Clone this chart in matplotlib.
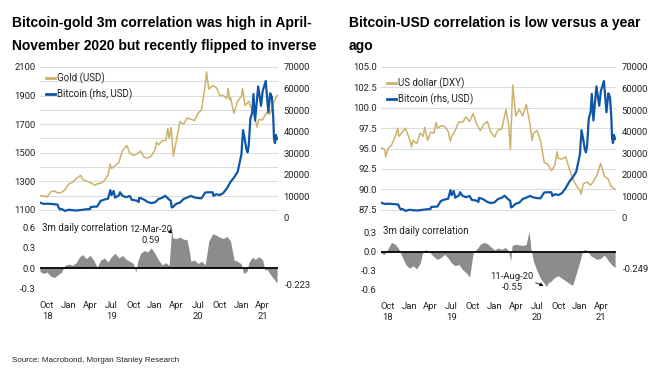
import pandas as pd
import numpy as np
import matplotlib
matplotlib.use('Agg')
import matplotlib.pyplot as plt
import matplotlib.transforms as mtransforms
from matplotlib import font_manager as fm

# ---- data ----
gold_dates = ["2018-09-01", "2018-09-16", "2018-10-01", "2018-10-16", "2018-11-01", "2018-11-16",
              "2018-12-01", "2018-12-16", "2019-01-01", "2019-01-16", "2019-02-01", "2019-02-20",
              "2019-03-01", "2019-03-16", "2019-04-01", "2019-04-23", "2019-05-01", "2019-05-16",
              "2019-06-01", "2019-06-16", "2019-06-25", "2019-07-01", "2019-07-16", "2019-08-01",
              "2019-08-16", "2019-09-04", "2019-09-16", "2019-10-01", "2019-10-16", "2019-11-01",
              "2019-11-16", "2019-12-01", "2019-12-16", "2020-01-01", "2020-01-08", "2020-01-16",
              "2020-02-01", "2020-02-16", "2020-02-24", "2020-03-01", "2020-03-09", "2020-03-19",
              "2020-04-01", "2020-04-16", "2020-05-01", "2020-05-16", "2020-06-01", "2020-06-16",
              "2020-07-01", "2020-07-16", "2020-08-01", "2020-08-06", "2020-08-16", "2020-09-01",
              "2020-09-16", "2020-10-01", "2020-10-16", "2020-11-01", "2020-11-06", "2020-11-12",
              "2020-11-16", "2020-11-30", "2020-12-16", "2021-01-01", "2021-01-06", "2021-01-16",
              "2021-02-01", "2021-02-16", "2021-03-01", "2021-03-08", "2021-03-16", "2021-04-01",
              "2021-04-16", "2021-05-01", "2021-05-16", "2021-06-01"]
gold_usd = [1200, 1198, 1190, 1226, 1233, 1218,
            1222, 1242, 1282, 1292, 1318, 1342,
            1313, 1302, 1292, 1272, 1282, 1287,
            1305, 1342, 1420, 1390, 1410, 1432,
            1515, 1550, 1500, 1480, 1492, 1512,
            1468, 1462, 1476, 1520, 1575, 1555,
            1585, 1585, 1670, 1600, 1678, 1475,
            1590, 1718, 1700, 1742, 1735, 1725,
            1775, 1802, 1975, 2065, 1945, 1970,
            1958, 1902, 1900, 1880, 1950, 1870,
            1886, 1776, 1860, 1895, 1950, 1830,
            1860, 1795, 1730, 1680, 1732, 1730,
            1778, 1770, 1845, 1902]

dxy_dates = ["2018-09-01", "2018-09-16", "2018-09-21", "2018-10-01", "2018-10-16", "2018-11-01",
             "2018-11-12", "2018-11-16", "2018-12-01", "2018-12-14", "2019-01-01", "2019-01-10",
             "2019-01-16", "2019-02-01", "2019-02-16", "2019-03-01", "2019-03-07", "2019-03-20",
             "2019-04-01", "2019-04-16", "2019-04-25", "2019-05-01", "2019-05-16", "2019-06-01",
             "2019-06-16", "2019-06-25", "2019-07-01", "2019-07-16", "2019-08-01", "2019-08-16",
             "2019-09-01", "2019-09-16", "2019-10-01", "2019-10-16", "2019-11-01", "2019-11-16",
             "2019-12-01", "2019-12-16", "2020-01-01", "2020-01-16", "2020-02-01", "2020-02-19",
             "2020-03-01", "2020-03-09", "2020-03-19", "2020-04-01", "2020-04-16", "2020-05-01",
             "2020-05-16", "2020-06-01", "2020-06-10", "2020-06-16", "2020-07-01", "2020-07-16",
             "2020-08-01", "2020-08-16", "2020-09-01", "2020-09-16", "2020-09-25", "2020-10-01",
             "2020-10-16", "2020-11-01", "2020-11-16", "2020-12-01", "2020-12-16", "2021-01-01",
             "2021-01-06", "2021-01-16", "2021-02-01", "2021-02-16", "2021-03-01", "2021-03-16",
             "2021-03-31", "2021-04-16", "2021-05-01", "2021-05-16", "2021-06-01"]
dxy = [95.1, 94.9, 94.0, 95.0, 95.4, 96.5,
       97.5, 96.5, 97.0, 97.5, 96.2, 95.2,
       96.0, 95.6, 96.9, 96.5, 97.6, 96.0,
       97.0, 96.9, 98.2, 97.5, 97.8, 97.7,
       97.1, 95.9, 96.5, 97.2, 98.3, 98.2,
       98.9, 98.3, 99.3, 98.0, 97.2, 98.0,
       98.3, 97.0, 96.4, 97.3, 97.4, 99.8,
       98.0, 94.9, 102.8, 99.0, 99.8, 99.0,
       100.4, 98.0, 96.0, 96.9, 97.2, 96.0,
       93.3, 93.1, 92.3, 93.0, 94.6, 93.8,
       93.7, 94.0, 92.6, 91.3, 90.5, 89.9,
       89.4, 90.7, 90.9, 90.5, 91.0, 91.8,
       93.2, 91.6, 91.3, 90.3, 90.0]

btc_dates = ["2018-09-01", "2018-09-16", "2018-10-01", "2018-10-16", "2018-11-01", "2018-11-14",
             "2018-11-20", "2018-11-25", "2018-12-01", "2018-12-16", "2019-01-01", "2019-01-16",
             "2019-02-01", "2019-02-16", "2019-03-01", "2019-03-16", "2019-04-01", "2019-04-03",
             "2019-04-16", "2019-05-01", "2019-05-16", "2019-06-01", "2019-06-16", "2019-06-26",
             "2019-07-01", "2019-07-10", "2019-07-16", "2019-08-01", "2019-08-06", "2019-08-16",
             "2019-09-01", "2019-09-16", "2019-09-25", "2019-10-01", "2019-10-16", "2019-10-24",
             "2019-10-26", "2019-11-01", "2019-11-16", "2019-12-01", "2019-12-16", "2020-01-01",
             "2020-01-16", "2020-02-01", "2020-02-13", "2020-03-01", "2020-03-08", "2020-03-12",
             "2020-03-16", "2020-04-01", "2020-04-16", "2020-05-01", "2020-05-16", "2020-06-01",
             "2020-06-16", "2020-07-01", "2020-07-16", "2020-08-01", "2020-08-16", "2020-09-01",
             "2020-09-05", "2020-09-16", "2020-10-01", "2020-10-16", "2020-11-01", "2020-11-16",
             "2020-12-01", "2020-12-16", "2021-01-01", "2021-01-08", "2021-01-16", "2021-01-22",
             "2021-01-27", "2021-02-01", "2021-02-08", "2021-02-16", "2021-02-21", "2021-02-28",
             "2021-03-13", "2021-03-25", "2021-04-01", "2021-04-14", "2021-04-25", "2021-05-03",
             "2021-05-10", "2021-05-16", "2021-05-19", "2021-05-23", "2021-05-27", "2021-06-01"]
btc_usd = [7100, 6500, 6600, 6500, 6350, 6200,
           4600, 3900, 4200, 3250, 3800, 3600,
           3450, 3600, 3800, 4000, 4100, 5000,
           5200, 5300, 7900, 8550, 8900, 12900,
           10600, 12500, 9400, 10400, 11900, 10300,
           9600, 10200, 8400, 8300, 8000, 7400,
           9250, 9200, 8500, 7400, 6900, 7200,
           8800, 9350, 10300, 8500, 8000, 4850,
           5000, 6600, 7100, 8800, 9400, 10200,
           9500, 9200, 9100, 11800, 11900, 11900,
           10200, 11000, 10600, 11500, 13800, 16700,
           18800, 21300, 29400, 40700, 36000, 32000,
           30400, 33500, 46000, 49000, 57500, 45200,
           61000, 52000, 58800, 63500, 49000, 57800,
           56000, 46400, 37000, 34700, 38500, 36600]

corr_gold_dates = ["2018-09-01", "2018-09-16", "2018-10-01", "2018-10-16", "2018-11-01", "2018-11-16",
                   "2018-12-01", "2018-12-16", "2019-01-01", "2019-01-16", "2019-02-01", "2019-02-16",
                   "2019-03-01", "2019-03-16", "2019-04-01", "2019-04-16", "2019-05-01", "2019-05-16",
                   "2019-06-01", "2019-06-16", "2019-07-01", "2019-07-16", "2019-08-01", "2019-08-16",
                   "2019-09-01", "2019-09-16", "2019-10-01", "2019-10-12", "2019-10-20", "2019-11-01",
                   "2019-11-16", "2019-12-01", "2019-12-16", "2020-01-01", "2020-01-16", "2020-02-01",
                   "2020-02-16", "2020-03-01", "2020-03-12", "2020-03-16", "2020-04-01", "2020-04-16",
                   "2020-05-01", "2020-05-16", "2020-05-28", "2020-06-01", "2020-06-16", "2020-07-01",
                   "2020-07-16", "2020-08-01", "2020-08-16", "2020-09-01", "2020-09-16", "2020-10-01",
                   "2020-10-16", "2020-11-01", "2020-11-16", "2020-12-01", "2020-12-16", "2021-01-01",
                   "2021-01-10", "2021-01-25", "2021-02-01", "2021-02-16", "2021-03-01", "2021-03-16",
                   "2021-04-01", "2021-04-10", "2021-04-20", "2021-05-01", "2021-05-16", "2021-06-01"]
corr_gold = [-0.05, -0.08, -0.06, -0.12, -0.14, -0.10,
             -0.06, 0.04, 0.06, 0.04, 0.08, 0.17,
             0.20, 0.14, 0.19, 0.12, 0.01, 0.12,
             0.15, 0.09, 0.17, 0.22, 0.15, 0.19,
             0.13, 0.10, 0.07, -0.06, 0.10, 0.22,
             0.26, 0.24, 0.30, 0.22, 0.12, 0.05,
             0.08, 0.04, 0.59, 0.45, 0.44, 0.46,
             0.43, 0.42, 0.20, 0.10, 0.12, 0.07,
             0.10, 0.05, 0.40, 0.51, 0.49, 0.46,
             0.44, 0.47, 0.40, 0.12, 0.10, 0.06,
             -0.08, -0.05, 0.08, 0.16, 0.13, 0.17,
             0.12, -0.03, -0.02, -0.08, -0.15, -0.223]

corr_usd_dates = ["2018-09-01", "2018-09-16", "2018-10-01", "2018-10-16", "2018-11-01", "2018-11-16",
                  "2018-12-01", "2018-12-16", "2019-01-01", "2019-01-16", "2019-02-01", "2019-02-16",
                  "2019-03-01", "2019-03-16", "2019-04-01", "2019-04-16", "2019-05-01", "2019-05-16",
                  "2019-06-01", "2019-06-16", "2019-07-01", "2019-07-16", "2019-08-01", "2019-08-16",
                  "2019-09-01", "2019-09-16", "2019-10-01", "2019-10-16", "2019-11-01", "2019-11-16",
                  "2019-12-01", "2019-12-16", "2020-01-01", "2020-01-16", "2020-02-01", "2020-02-16",
                  "2020-03-01", "2020-03-10", "2020-03-16", "2020-04-01", "2020-04-16", "2020-05-01",
                  "2020-05-16", "2020-05-28", "2020-06-05", "2020-06-16", "2020-07-01", "2020-07-16",
                  "2020-08-01", "2020-08-11", "2020-08-16", "2020-09-01", "2020-09-16", "2020-10-01",
                  "2020-10-16", "2020-11-01", "2020-11-16", "2020-12-01", "2020-12-16", "2021-01-01",
                  "2021-01-10", "2021-01-20", "2021-02-01", "2021-02-16", "2021-03-01", "2021-03-16",
                  "2021-04-01", "2021-04-16", "2021-05-01", "2021-05-16", "2021-06-01"]
corr_usd = [-0.02, -0.04, 0.05, 0.15, 0.12, 0.05,
            -0.08, -0.20, -0.26, -0.22, -0.27, -0.18,
            0.02, 0.03, -0.02, -0.08, -0.12, -0.09,
            -0.04, -0.10, -0.18, -0.22, -0.20, -0.28,
            -0.33, -0.40, -0.02, 0.04, 0.12, 0.15,
            0.13, 0.08, 0.03, 0.06, 0.04, 0.07,
            0.02, -0.15, 0.10, 0.12, 0.11, 0.10,
            0.12, 0.33, 0.05, -0.15, -0.30, -0.42,
            -0.50, -0.55, -0.50, -0.46, -0.40, -0.38,
            -0.42, -0.46, -0.50, -0.53, -0.35, -0.15,
            -0.02, 0.04, 0.02, -0.06, -0.09, -0.12,
            -0.10, -0.05, -0.13, -0.20, -0.249]

tick_dates = ["2018-10-01", "2019-01-01", "2019-04-01", "2019-07-01", "2019-10-01", "2020-01-01",
              "2020-04-01", "2020-07-01", "2020-10-01", "2021-01-01", "2021-04-01"]
tick_labels = ["Oct\n18", "Jan", "Apr", "Jul\n19", "Oct", "Jan", "Apr", "Jul\n20", "Oct", "Jan", "Apr\n21"]


def pick_font(names):
    for n in names:
        try:
            fm.findfont(fm.FontProperties(family=n), fallback_to_default=False)
            return n
        except ValueError:
            pass
    return 'DejaVu Sans'


narrow = pick_font(['Liberation Sans Narrow', 'Roboto'])
plt.rcParams['font.family'] = [narrow, 'DejaVu Sans']
plt.rcParams['text.color'] = '#222222'
plt.rcParams['xtick.color'] = '#222222'
plt.rcParams['ytick.color'] = '#222222'

GOLD = '#cdb26a'
BLUE = '#0f57a6'
GREY = '#8c8c8c'
GRID = '#dcdcdc'
TICK_FS = 6.8
LAB_FS = 7.0

xmin = pd.Timestamp("2018-09-01")
xmax = pd.Timestamp("2021-06-05")

fig = plt.figure(figsize=(6.72, 3.70), dpi=100)


def top_panel(rect, dates, vals, ylim, ymajor, yminor, fmt, label, leg_y):
    ax = fig.add_axes(rect)
    ax.plot(pd.to_datetime(dates), vals, color=GOLD, lw=1.1, label=label, zorder=3)
    ax.set_ylim(*ylim)
    ax.set_yticks(ymajor)
    ax.set_yticks(yminor, minor=True)
    ax.set_yticklabels([fmt.format(v) for v in ymajor])
    ax.grid(True, which='both', axis='y', color=GRID, lw=0.8)
    ax.set_axisbelow(True)
    ax.set_xlim(xmin, xmax)
    ax.set_xticks([])
    for s in ax.spines.values():
        s.set_visible(False)
    ax.tick_params(axis='y', which='both', length=0, pad=3, labelsize=TICK_FS)

    ax2 = ax.twinx()
    ax2.plot(pd.to_datetime(btc_dates), btc_usd, color=BLUE, lw=1.6, label='Bitcoin (rhs, USD)', zorder=4)
    ax2.set_ylim(0, 70000)
    ax2.set_yticks(np.arange(0, 70001, 10000))
    ax2.set_yticklabels([str(v) for v in range(0, 70001, 10000)])
    ax2.set_xlim(xmin, xmax)
    for s in ax2.spines.values():
        s.set_visible(False)
    ax2.tick_params(axis='y', length=0, pad=4, labelsize=TICK_FS)

    h1, l1 = ax.get_legend_handles_labels()
    h2, l2 = ax2.get_legend_handles_labels()
    leg = ax2.legend(h1 + h2, l1 + l2, loc='upper left', bbox_to_anchor=(0.0, leg_y),
                     frameon=False, fontsize=LAB_FS, handlelength=0.9, handletextpad=0.25,
                     labelspacing=0.45, borderaxespad=0.2)
    for line in leg.get_lines():
        line.set_linewidth(2.0)
    return ax, ax2


def corr_panel(rect, dates, vals, ylim, yticks):
    ax = fig.add_axes(rect)
    d = pd.to_datetime(dates)
    ax.fill_between(d, vals, 0, color=GREY, lw=0, zorder=2)
    ax.axhline(0, color='black', lw=1.3, zorder=3)
    ax.set_ylim(*ylim)
    ax.set_xlim(xmin, xmax)
    ax.set_yticks(yticks)
    ax.set_yticklabels(['{:.1f}'.format(v) for v in yticks])
    ax.set_xticks(pd.to_datetime(tick_dates))
    ax.set_xticklabels(tick_labels, linespacing=1.35)
    for s in ax.spines.values():
        s.set_visible(False)
    ax.tick_params(axis='both', length=0, labelsize=TICK_FS)
    ax.tick_params(axis='x', pad=4)
    ax.tick_params(axis='y', pad=3)
    ax.text(0.01, 0.97, '3m daily correlation', transform=ax.transAxes,
            fontsize=LAB_FS, va='top', ha='left')
    tr = mtransforms.blended_transform_factory(ax.transAxes, ax.transData)
    ax.text(1.03, vals[-1] - 0.03, '{:.3f}'.format(vals[-1]), transform=tr,
            fontsize=TICK_FS, va='center', ha='left')
    return ax


# left panel: Bitcoin vs gold
top_panel([0.0595, 0.411, 0.3542, 0.408], gold_dates, gold_usd, (1044, 2100),
          np.arange(1100, 2101, 200), np.arange(1100, 2101, 100), '{:.0f}', 'Gold (USD)', 1.0)
axc1 = corr_panel([0.0595, 0.2027, 0.3542, 0.2], corr_gold_dates, corr_gold, (-0.4, 0.7),
                  [-0.3, 0.0, 0.3, 0.6])
axc1.text(pd.Timestamp("2019-12-12"), 0.495, '12-Mar-20\n0.59', fontsize=TICK_FS,
          ha='center', va='center', linespacing=1.3)
axc1.annotate('', xy=(pd.Timestamp("2020-03-12"), 0.62), xytext=(pd.Timestamp("2020-03-06"), 0.54),
              arrowprops=dict(arrowstyle='-|>', color='black', lw=0.6, mutation_scale=5))

# right panel: Bitcoin vs US dollar
top_panel([0.567, 0.411, 0.3497, 0.408], dxy_dates, dxy, (86.5, 105),
          np.arange(87.5, 105.01, 2.5), np.arange(87.5, 105.01, 2.5), '{:.1f}', 'US dollar (DXY)', 0.97)
axc2 = corr_panel([0.567, 0.2, 0.3497, 0.196], corr_usd_dates, corr_usd, (-0.7, 0.45),
                  [-0.6, -0.3, 0.0, 0.3])
axc2.text(pd.Timestamp("2020-03-16"), -0.48, '11-Aug-20\n-0.55', fontsize=TICK_FS,
          ha='center', va='center', linespacing=1.3)
axc2.annotate('', xy=(pd.Timestamp("2020-08-09"), -0.553), xytext=(pd.Timestamp("2020-06-14"), -0.474),
              arrowprops=dict(arrowstyle='-|>', color='black', lw=0.6, mutation_scale=5))

# titles and source
title_font = pick_font(['Liberation Sans', 'Arial'])
fig.text(12 / 672, 1 - 27 / 370, 'Bitcoin-gold 3m correlation was high in April-', fontsize=10,
         fontweight='bold', family=title_font, va='baseline', ha='left', color='black')
fig.text(12 / 672, 1 - 50 / 370, 'November 2020 but recently flipped to inverse', fontsize=10,
         fontweight='bold', family=title_font, va='baseline', ha='left', color='black')
fig.text(349 / 672, 1 - 27 / 370, 'Bitcoin-USD correlation is low versus a year', fontsize=10,
         fontweight='bold', family=title_font, va='baseline', ha='left', color='black')
fig.text(349 / 672, 1 - 50 / 370, 'ago', fontsize=10,
         fontweight='bold', family=title_font, va='baseline', ha='left', color='black')
fig.text(12 / 672, 1 - 361 / 370, 'Source: Macrobond, Morgan Stanley Research', fontsize=5.8,
         family=title_font, va='center', ha='left', color='#222222')

fig.savefig('out.png', dpi=100)
